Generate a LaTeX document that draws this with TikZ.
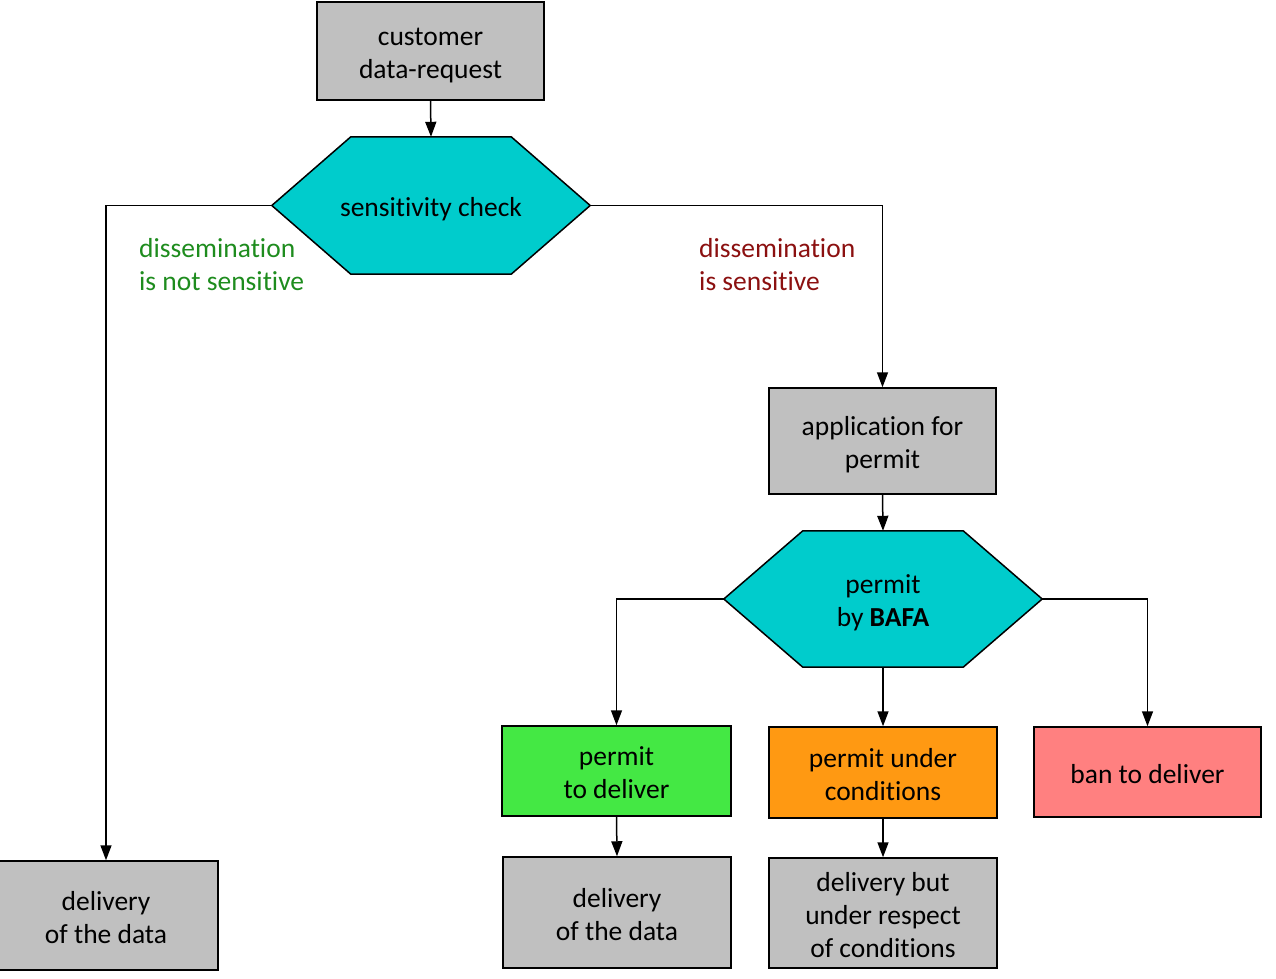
\documentclass[tikz,border=0pt]{standalone}
\usepackage{fontspec}
\setmainfont{Carlito}[Ligatures=NoCommon,Contextuals=NoAlternate]
\usetikzlibrary{arrows.meta,backgrounds}
\definecolor{boxgray}{HTML}{C0C0C0}
\definecolor{hexcyan}{HTML}{00CCCC}
\definecolor{okgreen}{HTML}{44E844}
\definecolor{condorange}{HTML}{FF9912}
\definecolor{banred}{HTML}{FF8080}
\definecolor{lblgreen}{HTML}{1E8C1E}
\definecolor{lblred}{HTML}{8B1010}
\tikzset{
  oneline/.style={text height=32pt, text depth=10pt},
  twoline/.style={text height=65pt, text depth=10pt},
  threeline/.style={text height=98pt, text depth=10pt},
  box/.style={draw=black, line width=1.5pt, inner sep=0pt, align=center,
    font=\fontsize{27.5}{33}\selectfont},
  hexnode/.style={inner sep=0pt},
  hextext/.style={align=center, inner sep=0pt, font=\fontsize{27.5}{33}\selectfont},
  hexshape/.style={draw=black, line width=1.5pt, fill=hexcyan},
  arr/.style={draw=black, line width=1.5pt, -{Triangle[length=15pt,width=11pt]}},
  lbl/.style={align=left, inner sep=0pt, anchor=west, font=\fontsize{27.5}{33}\selectfont}
}
\begin{document}
\begin{tikzpicture}[x=1pt,y=-1pt]
\useasboundingbox (0,0) rectangle (1276,979);

% boxes
\node[box, twoline, fill=boxgray, minimum width=227pt, minimum height=98pt] (cust) at (430.5,51) {customer\\data-request};
\node[box, twoline, fill=boxgray, minimum width=227pt, minimum height=106pt] (app) at (882.5,441) {application for\\permit};
\node[box, twoline, fill=okgreen, minimum width=229pt, minimum height=90pt] (grn) at (616.5,771) {permit\\to deliver};
\node[box, twoline, fill=condorange, minimum width=228pt, minimum height=91pt] (org) at (883,772.5) {permit under\\conditions};
\node[box, oneline, fill=banred, minimum width=227pt, minimum height=90pt] (ban) at (1147.5,772) {ban to deliver};
\node[box, twoline, fill=boxgray, minimum width=224pt, minimum height=109pt] (del1) at (106,915.5) {delivery\\of the data};
\node[box, twoline, fill=boxgray, minimum width=228pt, minimum height=111pt] (del2) at (617,912.5) {delivery\\of the data};
\node[box, threeline, fill=boxgray, minimum width=228pt, minimum height=110pt] (del3) at (883,913) {delivery but\\under respect\\of conditions};

% hexagons
\node[hexnode, minimum width=318pt, minimum height=137pt] (h1) at (431,205.5) {};
\node[hexnode, minimum width=318pt, minimum height=136pt] (h2) at (883,599) {};
\begin{scope}[on background layer]
\draw[hexshape] (h1.west) -- ([xshift=79pt]h1.north west) -- ([xshift=-79pt]h1.north east) -- (h1.east) -- ([xshift=-79pt]h1.south east) -- ([xshift=79pt]h1.south west) -- cycle;
\draw[hexshape] (h2.west) -- ([xshift=79pt]h2.north west) -- ([xshift=-79pt]h2.north east) -- (h2.east) -- ([xshift=-79pt]h2.south east) -- ([xshift=79pt]h2.south west) -- cycle;
\end{scope}
\node[hextext, oneline] (h1t) at (h1.center) {sensitivity check};
\node[hextext, twoline] (h2t) at (h2.center) {permit\\by \textbf{BAFA}};

% labels
\node[lbl, twoline, text=lblgreen] (lblL) at (139,263) {dissemination\\is not sensitive};
\node[lbl, twoline, text=lblred] (lblR) at (699,263) {dissemination\\is sensitive};

% connectors
\draw[arr] (cust.south) -- (h1.north);
\draw[arr] (h1.west) -| (del1.north);
\draw[arr] (h1.east) -| (app.north);
\draw[arr] (app.south) -- (h2.north);
\draw[arr] (h2.west) -| (grn.north);
\draw[arr] (h2.south) -- (org.north);
\draw[arr] (h2.east) -| (ban.north);
\draw[arr] (grn.south) -- (del2.north);
\draw[arr] (org.south) -- (del3.north);
\end{tikzpicture}
\end{document}
